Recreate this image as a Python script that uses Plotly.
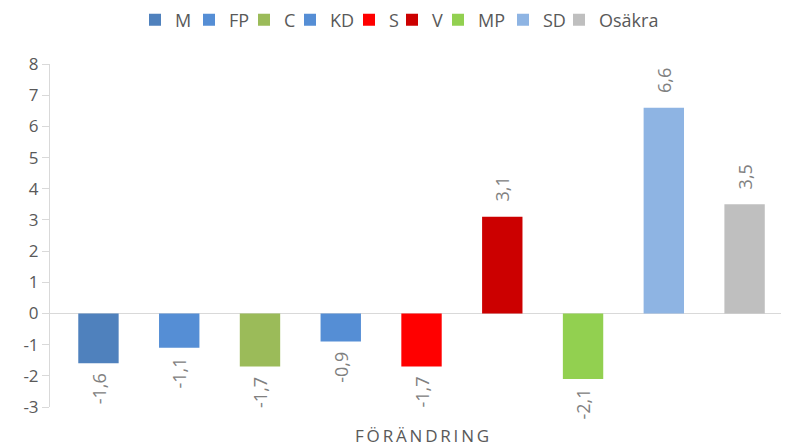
import plotly.graph_objects as go

parties = ["M", "FP", "C", "KD", "S", "V", "MP", "SD", "Osäkra"]
values = [-1.6, -1.1, -1.7, -0.9, -1.7, 3.1, -2.1, 6.6, 3.5]
colors = ["#4f81bd", "#558ed5", "#9bbb59", "#558ed5", "#ff0000", "#cc0000", "#92d050", "#8eb4e3", "#bfbfbf"]
y_ticks = list(range(-3, 9))
y_ticktext = [str(t) for t in y_ticks]
category_label = "FÖRÄNDRING"

FONT = "Open Sans"
W, H = 781, 438  # page adds an 8px body margin
legend_left_px = [141, 195, 250, 296, 355, 398, 444, 509, 565]

fig = go.Figure()
for i, (p, v, c) in enumerate(zip(parties, values, colors)):
    lg = "legend" if i == 0 else f"legend{i + 1}"
    fig.add_trace(go.Bar(
        x=[i], y=[v], name=p, marker=dict(color=c, line=dict(width=0)),
        width=0.5, legend=lg,
    ))
    fig.add_annotation(
        x=i, y=v, xref="x", yref="y",
        text=f"{v:.1f}".replace(".", ","), textangle=-90, showarrow=False,
        yanchor="bottom" if v >= 0 else "top",
        yshift=13 if v >= 0 else -8,
        font=dict(family=FONT, size=18, color="#808080"),
    )
    fig.update_layout({lg: dict(
        orientation="h", x=(legend_left_px[i] - 14) / W, xanchor="left", xref="container",
        y=1 - 12 / H, yanchor="middle", yref="container",
        font=dict(family=FONT, size=18, color="#595959"), itemwidth=30,
        bgcolor="rgba(0,0,0,0)",
    )})

fig.update_layout(
    width=W, height=H,
    margin=dict(l=42, r=0, t=56, b=39, autoexpand=False),
    paper_bgcolor="white", plot_bgcolor="white",
    showlegend=True,
    font=dict(family=FONT, color="#595959"),
)
fig.update_xaxes(range=[-0.6, 8.55], showticklabels=False, showgrid=False,
                 zeroline=False, showline=False, ticks="")
fig.update_yaxes(range=[-3, 8], tickvals=y_ticks, ticktext=y_ticktext, showgrid=False,
                 zeroline=True, zerolinecolor="#d9d9d9", zerolinewidth=1,
                 showline=True, linecolor="#d9d9d9", linewidth=1,
                 ticks="outside", ticklen=7, tickcolor="#d9d9d9",
                 tickfont=dict(family=FONT, size=17, color="#595959"))
fig.add_annotation(text="\u2009".join(category_label), xref="x", yref="paper", x=4, y=0,
                   yanchor="middle", yshift=-28,
                   showarrow=False, font=dict(family=FONT, size=17, color="#595959"))
fig.write_html("out.html")
